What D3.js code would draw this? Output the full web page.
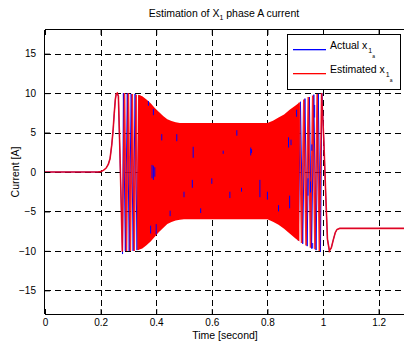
<!DOCTYPE html>
<html><head><meta charset="utf-8">
<script src="https://cdn.jsdelivr.net/npm/d3@7"></script>
<style>
html,body{margin:0;padding:0;background:#fff;}
svg{display:block;font-family:"Liberation Sans",Arial,Helvetica,sans-serif;}
</style></head>
<body>
<svg id="chart" width="404" height="349"></svg>
<script>
// ---- data ----
const xTicks = [0, 0.2, 0.4, 0.6, 0.8, 1, 1.2];
const yTicks = [-15, -10, -5, 0, 5, 10, 15];
const seriesNames = ["Actual x", "Estimated x"];

// smooth start-up transient (both traces)
const startT = [0, 0.19, 0.20, 0.21, 0.22, 0.228, 0.234, 0.240, 0.245, 0.249, 0.253, 0.256, 0.260, 0.264];
const startV = [0, 0, 0.05, 0.2, 0.5, 1.0, 1.7, 3.4, 5.3, 7.4, 9.2, 9.9, 10.0, 9.6];
// first individually visible cycles – estimate (red)
const startZigT = [0.270, 0.278, 0.286, 0.293, 0.300, 0.307, 0.314, 0.321, 0.328, 0.335, 0.341];
const startZigV = [2.0, -10.1, 10.0, -10.0, 10.0, -10.0, 9.9, -10.0, 9.8, -9.9, 9.7];
// first cycles – actual (blue)
const blueStartZigT = [0.270, 0.279, 0.282, 0.289, 0.296, 0.303, 0.310, 0.317, 0.324, 0.331, 0.338];
const blueStartZigV = [1.5, -10.4, 10.0, -10.0, 10.0, -10.0, 9.9, -10.0, 9.9, -9.9, 9.7];
// dense oscillation envelope
const envT     = [0.335, 0.350, 0.365, 0.380, 0.395, 0.410, 0.425, 0.440, 0.455, 0.470, 0.485, 0.500, 0.600, 0.700, 0.800, 0.820, 0.840, 0.860, 0.880, 0.900, 0.915];
const envUpper = [9.8, 9.6, 9.2, 8.7, 8.1, 7.6, 7.1, 6.7, 6.45, 6.3, 6.22, 6.2, 6.2, 6.2, 6.2, 6.5, 6.9, 7.3, 7.9, 8.4, 8.8];
const envLower = [-9.9, -9.7, -9.3, -8.8, -8.2, -7.6, -7.1, -6.6, -6.35, -6.15, -6.05, -6.0, -6.0, -6.0, -6.0, -6.3, -6.7, -7.2, -7.8, -8.4, -8.8];
// last visible cycles – estimate (red)
const endZigT = [0.915, 0.923, 0.931, 0.939, 0.947, 0.955, 0.963, 0.971, 0.979, 0.987, 0.995];
const endZigV = [8.8, -9.0, 9.2, -9.3, 9.5, -9.6, 9.7, -9.8, 9.9, -10.0, 10.0];
// last visible cycles – actual (blue)
const blueEndZigT = [0.911, 0.919, 0.927, 0.935, 0.943, 0.951, 0.959, 0.967, 0.975, 0.983, 0.991, 0.996];
const blueEndZigV = [-8.7, 8.9, -9.1, 9.3, -9.4, 9.5, -9.7, 9.8, -9.9, 9.9, -10.1, 10.0];
// settling to the final DC level
const endT = [1.003, 1.010, 1.016, 1.023, 1.030, 1.037, 1.044, 1.050, 1.060, 1.300];
const endV = [4.0, -3.0, -8.5, -10.0, -9.6, -8.6, -7.7, -7.3, -7.15, -7.15];
// places where the actual (blue) trace shows through the estimate
const streakT  = [0.372, 0.385, 0.390, 0.395, 0.400, 0.380, 0.390, 0.420, 0.450, 0.474, 0.500, 0.530, 0.533, 0.560, 0.600, 0.641, 0.665, 0.690, 0.707, 0.740, 0.743, 0.773, 0.800, 0.840, 0.876, 0.880, 0.885, 0.905, 0.946, 0.955, 0.960, 0.963, 0.970];
const streakLo = [8.4, -0.8, -1.0, -0.6, -7.9, -7.8, 7.2, 4.0, -5.6, 3.9, -3.2, -2.0, 1.8, -5.2, -1.5, 2.3, -3.3, 4.6, -2.5, 2.1, 2.4, -3.2, -3.5, -5.0, 3.1, -4.6, 3.4, 7.0, -3.0, -2.6, 2.7, -9.7, 6.9];
const streakHi = [9.0, 0.9, 0.8, 0.6, -6.6, -6.8, 8.0, 4.8, -4.9, 4.8, -2.5, -1.0, 3.2, -4.6, -0.8, 2.7, -2.5, 5.3, -2.0, 3.1, 2.9, -1.0, -2.5, -4.2, 4.4, -3.0, 4.1, 7.9, -0.8, -1.2, 3.5, -9.0, 8.5];

// ---- drawing ----
const svg = d3.select("#chart");
const x = d3.scaleLinear().domain([0, 1.3]).range([45, 406.4]);
const y = d3.scaleLinear().domain([-18, 18]).range([314, 30]);
const BLUE = "#0000ff", RED = "#ff0000";

svg.append("defs").append("clipPath").attr("id", "clip")
  .append("rect").attr("x", 45).attr("y", 30).attr("width", 362).attr("height", 284);

// grid
const grid = svg.append("g").attr("stroke", "#000").attr("stroke-width", 1).attr("stroke-dasharray", "6,4");
grid.selectAll(".gx").data(xTicks.filter(d => d > 0)).join("line").attr("class", "gx")
  .attr("x1", d => Math.round(x(d)) + 0.5).attr("x2", d => Math.round(x(d)) + 0.5)
  .attr("y1", y(18)).attr("y2", y(-18));
grid.selectAll(".gy").data(yTicks).join("line").attr("class", "gy")
  .attr("x1", x(0)).attr("x2", 404)
  .attr("y1", d => Math.round(y(d)) + 0.5).attr("y2", d => Math.round(y(d)) + 0.5);

const plot = svg.append("g").attr("clip-path", "url(#clip)");
const line = d3.line().x(d => x(d[0])).y(d => y(d[1]));
const zip = (a, b) => a.map((t, i) => [t, b[i]]);

const red1 = zip(startT, startV).concat(zip(startZigT, startZigV));
const red2 = zip(endZigT, endZigV).concat(zip(endT, endV));
const blue1 = zip(startT, startV).concat(zip(blueStartZigT, blueStartZigV));
const blue2 = zip(blueEndZigT, blueEndZigV).concat(zip(endT, endV));

// actual (blue)
[blue1, blue2].forEach(d => plot.append("path").datum(d).attr("d", line)
  .attr("fill", "none").attr("stroke", BLUE).attr("stroke-width", 1));

// estimated (red): dense band + individual cycles
const area = d3.area().x(d => x(d.t)).y0(d => y(d.lo)).y1(d => y(d.hi));
plot.append("path").datum(envT.map((t, i) => ({t, lo: envLower[i], hi: envUpper[i]})))
  .attr("d", area).attr("fill", RED);
[red1, red2].forEach(d => plot.append("path").datum(d).attr("d", line)
  .attr("fill", "none").attr("stroke", RED).attr("stroke-opacity", 0.85).attr("stroke-width", 1.6));

// blue streaks showing through
plot.selectAll(".streak").data(streakT).join("line").attr("class", "streak")
  .attr("x1", d => x(d)).attr("x2", d => x(d))
  .attr("y1", (d, i) => y(streakLo[i])).attr("y2", (d, i) => y(streakHi[i]))
  .attr("stroke", BLUE).attr("stroke-width", 1);

// axes
const xAxis = d3.axisBottom(x).tickValues(xTicks).tickFormat(d3.format("~g")).tickSizeInner(-5).tickSizeOuter(0).tickPadding(5);
const yAxis = d3.axisLeft(y).tickValues(yTicks).tickFormat(d3.format("~g")).tickSizeInner(-5).tickSizeOuter(0).tickPadding(9);
const gx = svg.append("g").attr("transform", "translate(0,314)").call(xAxis);
const gy = svg.append("g").attr("transform", "translate(45,0)").call(yAxis);
const gt = svg.append("g").attr("transform", "translate(0,30)").call(d3.axisTop(x).tickValues(xTicks).tickFormat("").tickSizeInner(-5).tickSizeOuter(0));
[gx, gy, gt].forEach(g => {
  g.select(".domain").attr("stroke", "#000").attr("stroke-width", 1);
  g.selectAll(".tick line").attr("stroke", "#000");
  g.selectAll("text").attr("fill", "#000").attr("font-size", 10).attr("font-family", "Liberation Sans, Arial, sans-serif");
});
gx.select(".domain").attr("d", "M45,0.5H404");
gt.select(".domain").attr("d", "M45,-0.5H404");
gy.select(".domain").attr("d", "M-0.5,30V314");

// title
const title = svg.append("text").attr("x", 224).attr("y", 17).attr("text-anchor", "middle").attr("font-size", 10.5).attr("fill", "#000");
title.append("tspan").text("Estimation of X");
title.append("tspan").attr("font-size", 7).attr("dy", 3).text("1");
title.append("tspan").attr("dy", -3).text(" phase A current");

// axis labels
svg.append("text").attr("x", 225).attr("y", 339).attr("text-anchor", "middle").attr("font-size", 10.5).attr("fill", "#000").text("Time [second]");
svg.append("text").attr("transform", "translate(19,172) rotate(-90)").attr("text-anchor", "middle").attr("font-size", 10.5).attr("fill", "#000").text("Current [A]");

// legend
const lg = svg.append("g");
lg.append("rect").attr("x", 287.5).attr("y", 34.5).attr("width", 113).attr("height", 55).attr("fill", "#fff").attr("stroke", "#000").attr("stroke-width", 1);
const legendColors = [BLUE, RED];
const legY = [49, 73];
seriesNames.forEach((name, i) => {
  lg.append("rect").attr("x", 293).attr("y", legY[i]).attr("width", 33).attr("height", 1.3)
    .attr("fill", legendColors[i]);
  const t = lg.append("text").attr("x", 330).attr("y", legY[i]).attr("font-size", 10.5).attr("fill", "#000");
  t.append("tspan").text(name);
  t.append("tspan").attr("font-size", 7).attr("dy", 4).attr("dx", 1).text("1");
  t.append("tspan").attr("font-size", 5).attr("dy", 5).text("a");
});
</script>
</body></html>
